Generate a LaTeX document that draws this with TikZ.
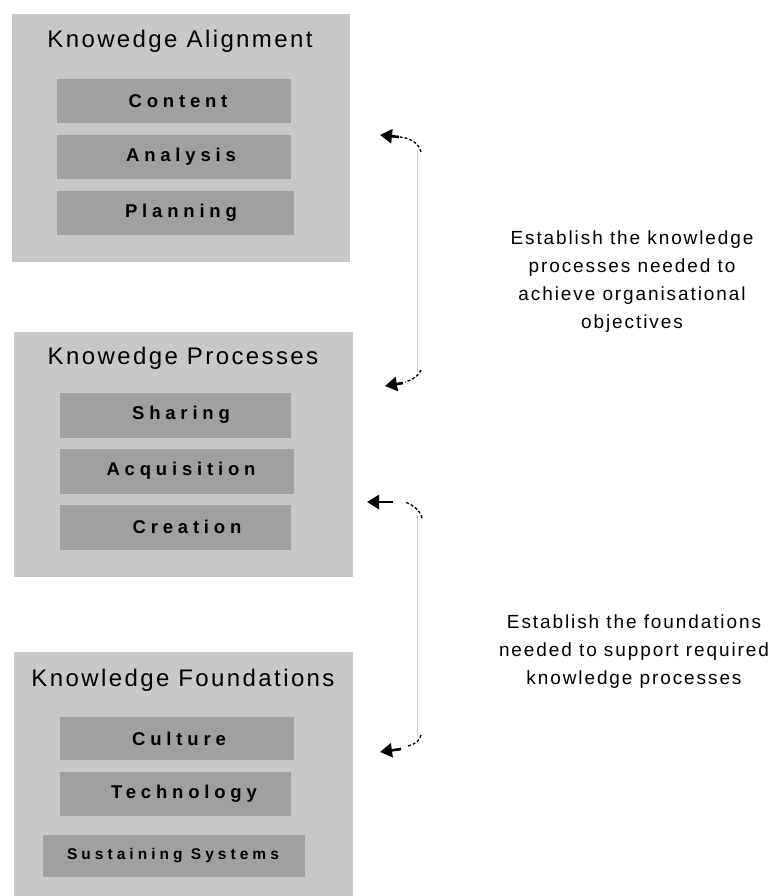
\documentclass[tikz,border=0pt]{standalone}
\usepackage{fontspec}
\setmainfont{Liberation Sans}
\newfontfamily\labfont[LetterSpace=26]{Liberation Sans}
\newfontfamily\titfont[LetterSpace=10]{Liberation Sans}
\newfontfamily\notefont[LetterSpace=10]{Liberation Sans}
\usetikzlibrary{arrows.meta}
\definecolor{outerg}{HTML}{C8C8C8}
\definecolor{innerg}{HTML}{A0A0A0}
\tikzset{
  outerbox/.style={fill=outerg, draw=none},
  innerbox/.style={fill=innerg, draw=none},
  title/.style={font=\titfont\fontsize{24}{26}\selectfont, anchor=center, inner sep=0pt},
  lab/.style={font=\labfont\bfseries\fontsize{18.5}{20}\selectfont, anchor=center, inner sep=0pt},
  note/.style={font=\notefont\fontsize{19}{28}\selectfont, align=center, anchor=center, inner sep=0pt},
  curvy/.style={black, dashed, dash pattern=on 3pt off 2pt, line width=1.3pt},
  vline/.style={draw=black!20, line width=0.8pt},
  tip/.style={-{Triangle[length=12pt,width=14pt]}, black, line width=2.6pt}
}
\begin{document}
\begin{tikzpicture}[x=1pt,y=-1pt]
\useasboundingbox[fill=white] (0,0) rectangle (776,896);
% box 1
\path[outerbox] (12,14) rectangle (350,262);
\node[title] (t1) at (180,41) {Knowedge Alignment};
\path[innerbox] (57,79) rectangle (291,123);
\node[lab] (c1) at (178,101) {Content};
\path[innerbox] (57,135) rectangle (291,179);
\node[lab] (c2) at (181,157) {Analysis};
\path[innerbox] (57,191) rectangle (294,235);
\node[lab] (c3) at (181,213) {Planning};
% box 2
\path[outerbox] (14,332) rectangle (353,577);
\node[title] (t2) at (183,358) {Knowedge Processes};
\path[innerbox] (60,393) rectangle (291,438);
\node[lab] (p1) at (181,415) {Sharing};
\path[innerbox] (60,449) rectangle (294,494);
\node[lab] (p2) at (181,471) {Acquisition};
\path[innerbox] (60,505) rectangle (291,550);
\node[lab] (p3) at (187,527) {Creation};
% box 3
\path[outerbox] (14,652) rectangle (353,896);
\node[title] (t3) at (183,680) {Knowledge Foundations};
\path[innerbox] (60,717) rectangle (294,760);
\node[lab] (f1) at (179,739) {Culture};
\path[innerbox] (60,772) rectangle (291,816);
\node[lab] (f2) at (184,794) {Technology};
\path[innerbox] (43,835) rectangle (305,877);
\node[lab, font=\labfont\bfseries\fontsize{15.5}{17}\selectfont] (f3) at (173,856) {Sustaining Systems};
% bracket 1
\coordinate (a1) at (421,152);
\coordinate (a2) at (421,370);
\coordinate (h1) at (380,135);
\coordinate (h2) at (385,386);
\draw[vline] (417,150) -- (417,372);
\draw[curvy] (a1) .. controls (419,143) and (410,138) .. (400,137);
\draw[tip] (399,137) -- (h1);
\draw[curvy] (a2) .. controls (419,376) and (412,380) .. (405,382);
\draw[tip] (403,383) -- (h2);
% bracket 2
\coordinate (b1) at (422,518);
\coordinate (b2) at (421,735);
\coordinate (g1) at (367,502);
\coordinate (g2) at (380,752);
\draw[vline] (417,516) -- (417,737);
\draw[curvy] (b1) .. controls (420,510) and (413,505) .. (405,502);
\draw[tip] (393,502) -- (g1);
\draw[curvy] (b2) .. controls (420,741) and (415,744) .. (408,746);
\draw[tip] (401,749) -- (g2);
% notes
\node[note] (n1) at (632,282) {Establish the knowledge\\processes needed to\\achieve organisational\\objectives};
\node[note] (n2) at (634,652) {Establish the foundations\\needed to support required\\knowledge processes};
\end{tikzpicture}
\end{document}
